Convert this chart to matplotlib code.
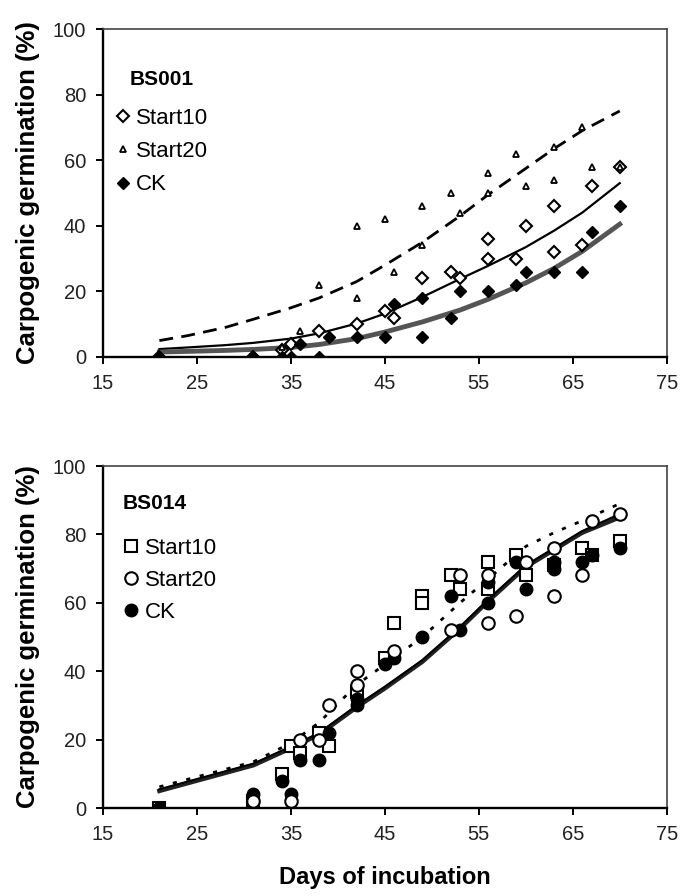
import matplotlib
matplotlib.use('Agg')
import matplotlib.pyplot as plt

plt.rcParams['font.family'] = ['Liberation Sans', 'DejaVu Sans']

# ---- BS001 (top) observations ----
t_s10 = [21, 31, 34, 35, 38, 42, 45, 46, 49, 52, 53, 56, 56, 59, 60, 63, 63, 66, 67, 70]
v_s10 = [0, 0, 2, 4, 8, 10, 14, 12, 24, 26, 24, 30, 36, 30, 40, 32, 46, 34, 52, 58]
t_s20 = [21, 31, 34, 36, 38, 42, 42, 45, 46, 49, 49, 52, 53, 56, 56, 59, 60, 63, 63, 66, 67, 70]
v_s20 = [0, 0, 3, 8, 22, 40, 18, 42, 26, 46, 34, 50, 44, 56, 50, 62, 52, 54, 64, 70, 58, 58]
t_ck = [21, 31, 34, 35, 36, 38, 39, 42, 45, 46, 49, 49, 52, 53, 56, 59, 60, 63, 66, 67, 70]
v_ck = [0, 0, 0, 0, 4, 0, 6, 6, 6, 16, 18, 6, 12, 20, 20, 22, 26, 26, 26, 38, 46]

# fitted curves
fit_t = [21, 24, 28, 31, 35, 38, 42, 45, 49, 53, 56, 60, 63, 66, 70]
fit_s20 = [5, 6.5, 9, 11.5, 15, 18, 23, 28, 35, 43, 49.5, 57.5, 63.5, 69, 75]
fit_s10 = [2.4, 2.9, 3.6, 4.3, 5.6, 7.2, 10.2, 13.2, 18.3, 23.8, 27.8, 33.5, 38.5, 44, 53]
fit_ck = [1.5, 1.7, 2, 2.3, 2.9, 3.8, 5.6, 7.6, 10.7, 14.3, 17.6, 22.6, 27, 32.2, 40.5]

# ---- BS014 (bottom) observations ----
b_t_s10 = [21, 31, 34, 35, 36, 38, 39, 42, 45, 46, 49, 49, 52, 53, 56, 56, 59, 60, 63, 66, 67, 70]
b_v_s10 = [0, 2, 10, 18, 16, 22, 18, 34, 44, 54, 62, 60, 68, 64, 72, 64, 74, 68, 71, 76, 74, 78]
b_t_s20 = [31, 35, 36, 38, 39, 42, 42, 46, 52, 53, 56, 56, 59, 60, 63, 63, 66, 67, 70]
b_v_s20 = [2, 2, 20, 20, 30, 40, 36, 46, 52, 68, 68, 54, 56, 72, 76, 62, 68, 84, 86]
b_t_ck = [21, 31, 34, 35, 36, 38, 39, 42, 42, 45, 46, 49, 52, 53, 56, 56, 59, 60, 63, 63, 66, 67, 70]
b_v_ck = [0, 4, 8, 4, 14, 14, 22, 32, 30, 42, 44, 50, 62, 52, 66, 60, 72, 64, 72, 70, 72, 74, 76]

b_fit_t = [21, 31, 35, 38, 42, 45, 49, 53, 56, 60, 63, 66, 70]
b_fit_s20 = [6.2, 13.5, 19, 25, 36, 42, 50, 60, 67, 76.5, 80.5, 84, 89]
b_fit_s10 = [5.5, 13, 18, 22, 30, 35.5, 43.3, 53, 61, 71, 76, 81, 86]
b_fit_ck = [5, 12.5, 17.5, 21.5, 29.5, 35, 42.8, 52.5, 60.5, 70.5, 75.5, 80.5, 85]

xticks = [15, 25, 35, 45, 55, 65, 75]
yticks = [0, 20, 40, 60, 80, 100]


def style_axis(ax):
    ax.set_xlim(15, 75)
    ax.set_ylim(0, 100)
    ax.set_xticks(xticks)
    ax.set_yticks(yticks)
    ax.tick_params(direction='out', length=5, width=1.4, labelsize=14.5, pad=7)
    for s in ['left', 'bottom']:
        ax.spines[s].set_linewidth(1.7)
    for s in ['top', 'right']:
        ax.spines[s].set_linewidth(1.2)
        ax.spines[s].set_color('#444444')
    ax.set_ylabel('Carpogenic germination (%)', fontsize=18.5, fontweight='bold', labelpad=9)
    for lab in ax.get_xticklabels() + ax.get_yticklabels():
        lab.set_color('#222222')


fig = plt.figure(figsize=(6.8, 8.96), dpi=100)

# top panel
ax1 = fig.add_axes([0.1515, 0.6016, 0.829, 0.366])
ax1.plot(fit_t, fit_s20, color='black', lw=2, ls=(0, (5, 3)), zorder=2)
ax1.plot(fit_t, fit_s10, color='black', lw=1.6, zorder=2)
ax1.plot(fit_t, fit_ck, color='#555555', lw=3.5, zorder=2)
ax1.plot(t_s10, v_s10, 'D', mfc='white', mec='black', mew=1.5, ms=6.5, ls='none', label='Start10', zorder=3)
ax1.plot(t_s20, v_s20, '^', mfc='white', mec='black', mew=1.3, ms=5, ls='none', label='Start20', zorder=4)
ax1.plot(t_ck, v_ck, 'D', color='black', ms=6.5, ls='none', label='CK', zorder=5)
style_axis(ax1)
ax1.text(0.047, 0.845, 'BS001', transform=ax1.transAxes, fontsize=15, fontweight='bold',
         va='center', ha='left')
ax1.legend(loc='upper left', bbox_to_anchor=(0.0, 0.8),
           frameon=False, fontsize=16, handlelength=0.6, handletextpad=0.3, labelspacing=0.55,
           borderaxespad=0.2)

# bottom panel
ax2 = fig.add_axes([0.1515, 0.0982, 0.829, 0.3817])
ax2.plot(b_fit_t, b_fit_ck, color='#222222', lw=3.2, zorder=2)
ax2.plot(b_fit_t, b_fit_s10, color='black', lw=1.4, zorder=2)
ax2.plot(b_fit_t, b_fit_s20, color='black', lw=2, ls=(0, (1.5, 3.5)), zorder=2)
ax2.plot(b_t_s10, b_v_s10, 's', mfc='white', mec='black', mew=1.5, ms=9, ls='none', label='Start10', zorder=3)
ax2.plot(b_t_ck, b_v_ck, 'o', color='black', ms=9, ls='none', label='CK', zorder=4)
ax2.plot(b_t_s20, b_v_s20, 'o', mfc='white', mec='black', mew=1.5, ms=9, ls='none', label='Start20', zorder=5)
style_axis(ax2)
ax2.set_xlabel('Days of incubation', fontsize=17, fontweight='bold', labelpad=16)
ax2.text(0.035, 0.889, 'BS014', transform=ax2.transAxes, fontsize=15, fontweight='bold',
         va='center', ha='left')
h, l = ax2.get_legend_handles_labels()
ax2.legend([h[0], h[2], h[1]], [l[0], l[2], l[1]], loc='upper left', bbox_to_anchor=(0.015, 0.829),
           frameon=False, fontsize=16, handlelength=0.6, handletextpad=0.3, labelspacing=0.5,
           borderaxespad=0.2)

plt.savefig('out.png', dpi=100)
